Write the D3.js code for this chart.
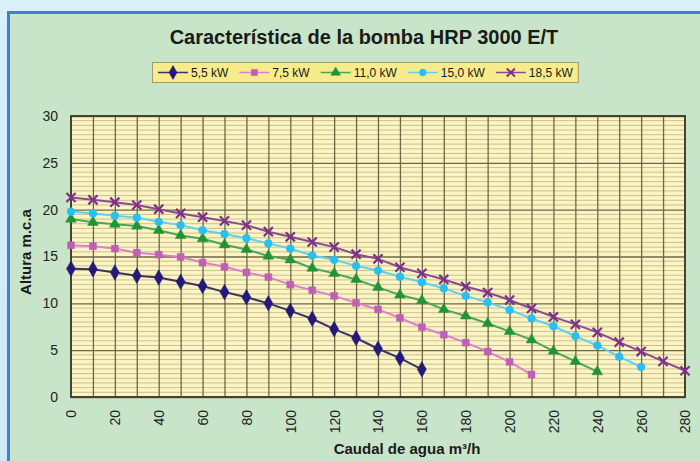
<!DOCTYPE html>
<html>
<head>
<meta charset="utf-8">
<script src="https://cdn.jsdelivr.net/npm/d3@7"></script>
<style>
  body { margin: 0; background: #d6edf9; }
  text { font-family: "Liberation Sans", Arial, sans-serif; }
</style>
</head>
<body>
<div id="chart"></div>
<script>
var caudal = [0, 10, 20, 30, 40, 50, 60, 70, 80, 90, 100, 110, 120, 130, 140, 150, 160, 170, 180, 190, 200, 210, 220, 230, 240, 250, 260, 270, 280];
var h55 = [13.7, 13.65, 13.3, 12.95, 12.75, 12.3, 11.85, 11.2, 10.65, 10.0, 9.2, 8.35, 7.25, 6.3, 5.15, 4.15, 2.95];
var h75 = [16.2, 16.1, 15.85, 15.4, 15.2, 14.95, 14.35, 13.9, 13.3, 12.8, 12.0, 11.4, 10.8, 10.05, 9.35, 8.45, 7.45, 6.65, 5.8, 4.85, 3.75, 2.4];
var h110 = [19.0, 18.65, 18.45, 18.25, 17.8, 17.25, 16.9, 16.25, 15.75, 15.05, 14.65, 13.75, 13.2, 12.55, 11.7, 10.9, 10.3, 9.35, 8.65, 7.85, 7.0, 6.1, 4.9, 3.8, 2.7];
var h150 = [19.8, 19.6, 19.35, 19.15, 18.7, 18.35, 17.8, 17.4, 16.95, 16.4, 15.85, 15.1, 14.65, 14.0, 13.5, 12.85, 12.25, 11.6, 10.8, 10.1, 9.3, 8.4, 7.55, 6.5, 5.5, 4.3, 3.2];
var h185 = [21.3, 21.05, 20.8, 20.5, 20.05, 19.6, 19.2, 18.8, 18.35, 17.65, 17.1, 16.55, 16.0, 15.25, 14.75, 13.85, 13.2, 12.55, 11.8, 11.15, 10.35, 9.45, 8.55, 7.75, 6.9, 5.85, 4.85, 3.8, 2.8];
var seriesNames = ["5,5 kW", "7,5 kW", "11,0 kW", "15,0 kW", "18,5 kW"];
var xTicks = [0, 20, 40, 60, 80, 100, 120, 140, 160, 180, 200, 220, 240, 260, 280];
var yTicks = [0, 5, 10, 15, 20, 25, 30];

var W = 700, H = 461;
var plotL = 71, plotR = 685, plotT = 116, plotB = 397;

var series = [
  { name: seriesNames[0], vals: h55, line: "#3b3366", fill: "#231a78", sym: d3.symbolDiamond, size: 70 },
  { name: seriesNames[1], vals: h75, line: "#dd7fcf", fill: "#bf5fb6", sym: d3.symbolSquare, size: 48 },
  { name: seriesNames[2], vals: h110, line: "#4aa55c", fill: "#239436", sym: d3.symbolTriangle, size: 50 },
  { name: seriesNames[3], vals: h150, line: "#5ed0f2", fill: "#28bff2", sym: d3.symbolCircle, size: 48 },
  { name: seriesNames[4], vals: h185, line: "#8c4a92", fill: "#7e2f8c", sym: d3.symbolX, size: 56, stroke: true }
];

var svg = d3.select("#chart")
    .append("svg")
    .attr("width", W)
    .attr("height", H);

var defs = svg.append("defs");
var bg = defs.append("linearGradient").attr("id", "bg").attr("x1", 0).attr("x2", 0).attr("y1", 0).attr("y2", 1);
bg.append("stop").attr("offset", 0).attr("stop-color", "#d9eff9");
bg.append("stop").attr("offset", 1).attr("stop-color", "#cfe9f6");

svg.append("rect").attr("width", W).attr("height", H).attr("fill", "url(#bg)");

// green panel with blue frame
svg.append("rect")
    .attr("x", 8.5).attr("y", 12.5)
    .attr("width", W).attr("height", H)
    .attr("fill", "#c8e5c9")
    .attr("stroke", "#3f7fd6")
    .attr("stroke-width", 3);

var x = d3.scaleLinear().domain([0, 280]).range([plotL, plotR]);
var y = d3.scaleLinear().domain([0, 30]).range([plotB, plotT]);

svg.append("rect")
    .attr("x", plotL).attr("y", plotT)
    .attr("width", plotR - plotL).attr("height", plotB - plotT)
    .attr("fill", "#fbf5c6");

// minor horizontal grid every 0.5
var minor = d3.range(0.5, 30, 0.5).filter(function(d) { return d % 5 != 0; });
svg.append("g").selectAll("line")
    .data(minor)
    .enter()
    .append("line")
    .attr("x1", plotL).attr("x2", plotR)
    .attr("y1", function(d) { return y(d); })
    .attr("y2", function(d) { return y(d); })
    .attr("stroke", "#cdbf88")
    .attr("stroke-width", 1);

svg.append("g")
    .attr("transform", "translate(" + plotL + ",0)")
    .call(d3.axisLeft(y).tickValues(yTicks).tickSize(-(plotR - plotL)).tickFormat(""))
    .call(function(g) {
        g.select(".domain").remove();
        g.selectAll("line").attr("stroke", "#6f6645").attr("stroke-width", 1.3);
    });

svg.append("g")
    .attr("transform", "translate(0," + plotB + ")")
    .call(d3.axisBottom(x).tickValues(d3.range(10, 280, 10)).tickSize(-(plotB - plotT)).tickFormat(""))
    .call(function(g) {
        g.select(".domain").remove();
        g.selectAll("line").attr("stroke", "#6f6645").attr("stroke-width", 1.3);
    });

svg.append("rect")
    .attr("x", plotL).attr("y", plotT)
    .attr("width", plotR - plotL).attr("height", plotB - plotT)
    .attr("fill", "none")
    .attr("stroke", "#45432f")
    .attr("stroke-width", 2);

// tick labels
var yAxis = svg.append("g")
    .attr("transform", "translate(" + plotL + ",0)")
    .call(d3.axisLeft(y).tickValues(yTicks).tickSize(0).tickPadding(13));
yAxis.select(".domain").remove();
yAxis.selectAll("text")
    .attr("font-size", "14px")
    .attr("font-family", "Liberation Sans, Arial, sans-serif")
    .attr("fill", "#222");

var xAxis = svg.append("g")
    .attr("transform", "translate(0," + plotB + ")")
    .call(d3.axisBottom(x).tickValues(xTicks).tickSize(0).tickPadding(0));
xAxis.select(".domain").remove();
xAxis.selectAll("text")
    .attr("font-size", "14px")
    .attr("font-family", "Liberation Sans, Arial, sans-serif")
    .attr("fill", "#222")
    .attr("transform", "rotate(-90)")
    .attr("x", -13)
    .attr("y", 0)
    .attr("dy", "0.35em")
    .attr("text-anchor", "end");

// lines and markers
var line = d3.line()
    .x(function(d, i) { return x(caudal[i]); })
    .y(function(d) { return y(d); });

series.forEach(function(s) {
    svg.append("path")
        .attr("d", line(s.vals))
        .attr("fill", "none")
        .attr("stroke", s.line)
        .attr("stroke-width", 2);
    var sym = d3.symbol().type(s.sym).size(s.size);
    svg.append("g").selectAll("path")
        .data(s.vals)
        .enter()
        .append("path")
        .attr("d", sym)
        .attr("transform", function(d, i) { return "translate(" + x(caudal[i]) + "," + y(d) + ")"; })
        .attr("fill", s.stroke ? "none" : s.fill)
        .attr("stroke", s.fill)
        .attr("stroke-width", s.stroke ? 2.2 : 0.5);
});

// title
svg.append("text")
    .attr("x", 364)
    .attr("y", 44)
    .attr("text-anchor", "middle")
    .attr("font-size", "20px")
    .attr("font-weight", "bold")
    .attr("fill", "#1a1a1a")
    .text("Característica de la bomba HRP 3000 E/T");

// legend
var leg = svg.append("g");
var legBox = leg.append("rect")
    .attr("y", 62.5)
    .attr("height", 20)
    .attr("fill", "#f7ec8c")
    .attr("stroke", "#a59a6c")
    .attr("stroke-width", 1);

var lx = 158;
series.forEach(function(s) {
    leg.append("line")
        .attr("x1", lx).attr("x2", lx + 30)
        .attr("y1", 72.5).attr("y2", 72.5)
        .attr("stroke", s.line)
        .attr("stroke-width", 1.5);
    leg.append("path")
        .attr("d", d3.symbol().type(s.sym).size(s.size * 0.8))
        .attr("transform", "translate(" + (lx + 15) + ",72.5)")
        .attr("fill", s.stroke ? "none" : s.fill)
        .attr("stroke", s.fill)
        .attr("stroke-width", s.stroke ? 2 : 0.5);
    var t = leg.append("text")
        .attr("x", lx + 33)
        .attr("y", 77)
        .attr("font-size", "12px")
        .attr("fill", "#1a1a1a")
        .text(s.name);
    lx = lx + 33 + t.node().getComputedTextLength() + 11;
});
legBox.attr("x", 152.5).attr("width", lx - 158);

// axis titles
svg.append("text")
    .attr("transform", "translate(31,252) rotate(-90)")
    .attr("text-anchor", "middle")
    .attr("font-size", "15px")
    .attr("font-weight", "bold")
    .attr("fill", "#1a1a1a")
    .text("Altura m.c.a");

svg.append("text")
    .attr("x", 407)
    .attr("y", 454)
    .attr("text-anchor", "middle")
    .attr("font-size", "15px")
    .attr("font-weight", "bold")
    .attr("fill", "#1a1a1a")
    .text("Caudal de agua m³/h");
</script>
</body>
</html>
